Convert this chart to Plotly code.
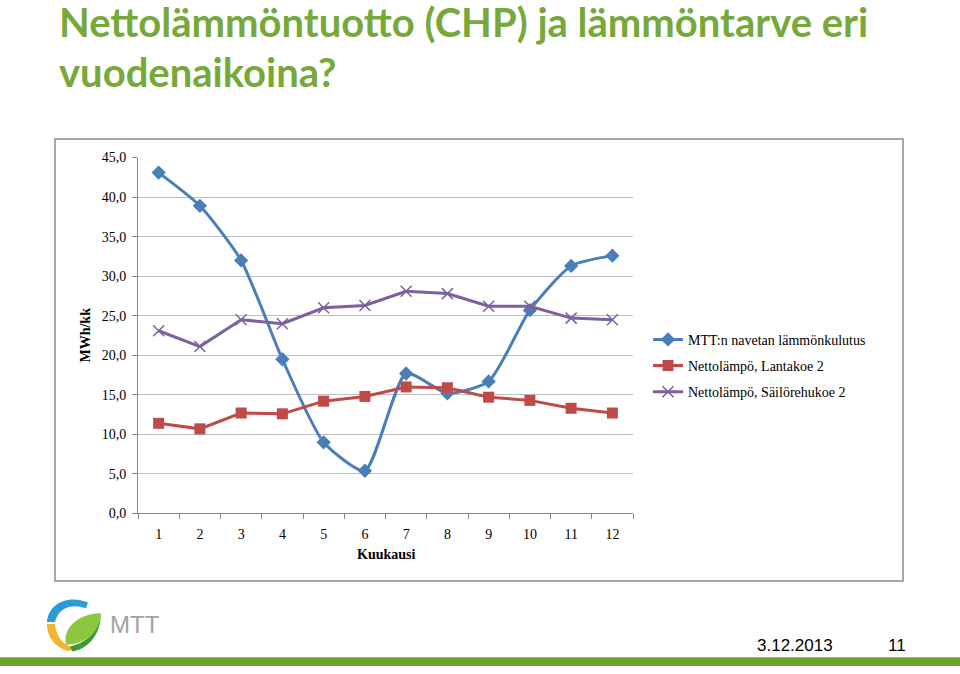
import plotly.graph_objects as go

W, H = 960, 674

months = list(range(1, 13))
month_labels = [str(m) for m in months]
consumption = [43.1, 38.9, 32.0, 19.5, 9.0, 5.4, 17.7, 15.2, 16.7, 25.7, 31.3, 32.6]
lantakoe = [11.4, 10.7, 12.7, 12.6, 14.2, 14.8, 16.0, 15.9, 14.7, 14.3, 13.3, 12.7]
sailorehukoe = [23.1, 21.1, 24.5, 24.0, 26.0, 26.3, 28.1, 27.8, 26.2, 26.2, 24.7, 24.5]
series_names = ["MTT:n navetan lämmönkulutus", "Nettolämpö, Lantakoe 2", "Nettolämpö, Säilörehukoe 2"]
y_ticks = [0, 5, 10, 15, 20, 25, 30, 35, 40, 45]

def px(x):
    return x / W

def py(y):
    return 1 - y / H

serif = "Liberation Serif"

fig = go.Figure()
fig.add_trace(go.Scatter(
    x=months, y=consumption, name=series_names[0], mode="lines+markers",
    line=dict(color="#4A7EBB", width=3, shape="spline", smoothing=0.6),
    marker=dict(symbol="diamond", size=11, color="#4A7EBB"),
    legendgroup="a"))
fig.add_trace(go.Scatter(
    x=months, y=lantakoe, name=series_names[1], mode="lines+markers",
    line=dict(color="#BE4B48", width=3),
    marker=dict(symbol="square", size=11, color="#BE4B48"),
    legendgroup="b"))
fig.add_trace(go.Scatter(
    x=months, y=sailorehukoe, name=series_names[2], mode="lines+markers",
    line=dict(color="#7D60A0", width=3),
    marker=dict(symbol="x-thin-open", size=11, color="#7D60A0", line=dict(width=1.5, color="#7D60A0")),
    legendgroup="c"))

fig.update_layout(
    width=W, height=H,
    margin=dict(l=0, r=0, t=0, b=0),
    paper_bgcolor="white", plot_bgcolor="white",
    separators=",.",
    font=dict(family=serif, size=14, color="#000000"),
    xaxis=dict(
        domain=[px(138), px(633)], range=[0.5, 12.5],
        tickmode="array", tickvals=months, ticktext=month_labels,
        ticks="", showgrid=False, zeroline=False,
        showline=True, linecolor="#868686", linewidth=1,
        minor=dict(tickmode="linear", tick0=0.5, dtick=1, ticks="outside", ticklen=5, tickcolor="#868686", showgrid=False),
        tickfont=dict(family=serif, size=14),
        ticklabelstandoff=8,
        fixedrange=True,
    ),
    yaxis=dict(
        domain=[py(518), py(154)], range=[0, 45],
        tickmode="array", tickvals=y_ticks, tickformat=".1f",
        ticks="outside", ticklen=5, tickcolor="#868686",
        showgrid=True, gridcolor="#BFBFBF", gridwidth=1,
        zeroline=False, showline=True, linecolor="#868686", linewidth=1,
        tickfont=dict(family=serif, size=14),
        ticklabelstandoff=3,
        fixedrange=True,
    ),
    legend=dict(
        x=px(648), y=py(324), xanchor="left", yanchor="top",
        font=dict(family=serif, size=14),
        tracegroupgap=5, bgcolor="rgba(0,0,0,0)",
        itemwidth=30,
    ),
    showlegend=True,
)

shapes = []
shapes.append(dict(type="rect", xref="paper", yref="paper",
                   x0=px(55), x1=px(903), y0=py(587), y1=py(135),
                   line=dict(color="#8C8C8C", width=1.5), layer="below"))
shapes.append(dict(type="rect", xref="paper", yref="paper",
                   x0=0, x1=1, y0=0, y1=py(665),
                   line=dict(width=0), fillcolor="#6EA32D"))

def P(x, y):
    return f"{px(x):.5f},{py(y):.5f}"

shapes.append(dict(type="path", xref="paper", yref="paper",
                   path=f"M {P(47,629)} C {P(48,612)} {P(66,600)} {P(88,609)} L {P(86,615)} C {P(70,609)} {P(58,616)} {P(55,629)} Z",
                   fillcolor="#2B9BD6", line=dict(width=0)))
shapes.append(dict(type="path", xref="paper", yref="paper",
                   path=f"M {P(47,631)} L {P(55,631)} C {P(56,643)} {P(62,651)} {P(72,655)} L {P(70,659)} C {P(56,656)} {P(47,645)} {P(47,631)} Z",
                   fillcolor="#F3B531", line=dict(width=0)))
shapes.append(dict(type="path", xref="paper", yref="paper",
                   path=f"M {P(66,652)} C {P(62,636)} {P(78,620)} {P(101,620)} C {P(100,638)} {P(86,652)} {P(66,652)} Z",
                   fillcolor="#8CC63F", line=dict(width=0)))
shapes.append(dict(type="path", xref="paper", yref="paper",
                   path=f"M {P(72,659)} C {P(88,657)} {P(100,642)} {P(101,622)} C {P(98,640)} {P(86,650)} {P(70,654)} Z",
                   fillcolor="#3D9B35", line=dict(width=0)))
fig.update_layout(shapes=shapes)

annotations = []
title_color = "#76A83A"
annotations.append(dict(text="<b>Nettolämmöntuotto (CHP) ja lämmöntarve eri</b>", xref="paper", yref="paper",
                        x=px(57), y=py(15.5), xanchor="left", yanchor="middle", showarrow=False,
                        font=dict(family="Lato", size=40, color=title_color)))
annotations.append(dict(text="<b>vuodenaikoina?</b>", xref="paper", yref="paper",
                        x=px(57), y=py(66.5), xanchor="left", yanchor="middle", showarrow=False,
                        font=dict(family="Lato", size=40, color=title_color)))
annotations.append(dict(text="<b>MWh/kk</b>", xref="paper", yref="paper",
                        x=px(86), y=py(336), xanchor="center", yanchor="middle", showarrow=False,
                        textangle=-90, font=dict(family=serif, size=14)))
annotations.append(dict(text="<b>Kuukausi</b>", xref="paper", yref="paper",
                        x=px(386), y=py(560), xanchor="center", yanchor="middle", showarrow=False,
                        font=dict(family=serif, size=14)))
annotations.append(dict(text="MTT", xref="paper", yref="paper",
                        x=px(108), y=py(632), xanchor="left", yanchor="middle", showarrow=False,
                        font=dict(family="Liberation Sans", size=24, color="#A3A3A3")))
annotations.append(dict(text="3.12.2013", xref="paper", yref="paper",
                        x=px(755), y=py(653), xanchor="left", yanchor="middle", showarrow=False,
                        font=dict(family="Liberation Sans", size=17, color="#000000")))
annotations.append(dict(text="11", xref="paper", yref="paper",
                        x=px(908), y=py(653), xanchor="right", yanchor="middle", showarrow=False,
                        font=dict(family="Liberation Sans", size=17, color="#000000")))
fig.update_layout(annotations=annotations)

fig.write_html("out.html", config={"displayModeBar": False},
               post_script="document.body.style.margin='0';document.body.style.overflow='hidden';")
